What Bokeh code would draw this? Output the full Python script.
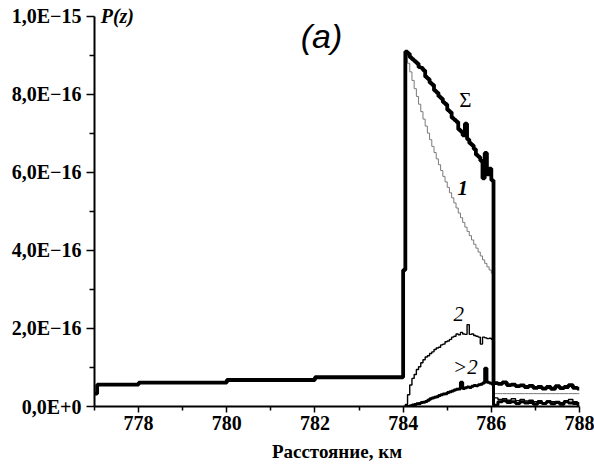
import numpy as np
from bokeh.plotting import figure
from bokeh.models import Range1d, FixedTicker, Label
from bokeh.embed import file_html
from bokeh.resources import INLINE

# ---- data (P(z) in units of 1e-16) ----
# baseline part of the total (Σ) before the peak
pre_edges = [777.0, 777.06, 778.0, 780.0, 782.0, 784.0]
pre_sum = [0.33, 0.56, 0.61, 0.68, 0.75, 3.5]

# peak region, bins of 0.05 km starting at 784.05
peak_edges = list(np.round(784.05 + 0.05 * np.arange(40), 2))
peak_sum = [9.10, 9.05, 8.95, 8.90, 8.85, 8.80, 8.70, 8.68, 8.62, 8.45,
            8.40, 8.30, 8.25, 8.10, 8.05, 7.95, 7.90, 7.80, 7.75, 7.60,
            7.55, 7.40, 7.35, 7.30, 7.10, 7.05, 6.95, 7.25, 6.85, 6.75,
            6.70, 6.60, 6.45, 6.40, 6.30, 5.85, 6.50, 5.95, 6.10, 5.80]
peak_1 = [9.05, 8.80, 8.58, 8.36, 8.15, 7.95, 7.75, 7.56, 7.37, 7.19,
          7.01, 6.84, 6.67, 6.51, 6.35, 6.20, 6.05, 5.90, 5.76, 5.62,
          5.48, 5.35, 5.22, 5.09, 4.96, 4.84, 4.72, 4.60, 4.49, 4.38,
          4.27, 4.16, 4.06, 3.96, 3.86, 3.76, 3.67, 3.58, 3.50, 3.42]
peak_2 = [0.05, 0.30, 0.55, 0.72, 0.82, 0.95, 1.02, 1.12, 1.20, 1.27,
          1.30, 1.36, 1.40, 1.46, 1.50, 1.52, 1.58, 1.60, 1.66, 1.68,
          1.72, 1.78, 1.80, 1.86, 1.84, 1.90, 1.86, 1.85, 2.10, 1.85,
          1.86, 1.82, 1.80, 1.78, 1.60, 1.78, 1.76, 1.74, 1.75, 1.72]
peak_gt2 = [0.00, 0.00, 0.02, 0.04, 0.05, 0.07, 0.08, 0.10, 0.11, 0.13,
            0.16, 0.20, 0.22, 0.24, 0.25, 0.28, 0.30, 0.32, 0.33, 0.36,
            0.38, 0.40, 0.42, 0.44, 0.45, 0.62, 0.46, 0.48, 0.50, 0.49,
            0.52, 0.54, 0.53, 0.56, 0.57, 0.60, 0.98, 0.62, 0.60, 0.58]

# tail after 786 km, bins of 0.1 km starting at 786.05
post_edges = list(np.round(786.05 + 0.1 * np.arange(20), 2))
post_sum = [0.60, 0.58, 0.62, 0.55, 0.56, 0.52, 0.54, 0.50, 0.53, 0.48,
            0.50, 0.46, 0.50, 0.45, 0.52, 0.47, 0.50, 0.55, 0.48, 0.46]
post_1 = [0.33] * 20
post_2 = [0.22, 0.18, 0.20, 0.16, 0.20, 0.15, 0.18, 0.14, 0.16, 0.12,
          0.15, 0.10, 0.14, 0.12, 0.13, 0.10, 0.15, 0.18, 0.12, 0.10]
post_gt2 = [0.03, 0.12, 0.15, 0.10, 0.12, 0.08, 0.12, 0.09, 0.10, 0.06,
            0.10, 0.08, 0.12, 0.07, 0.10, 0.06, 0.12, 0.09, 0.08, 0.05]
x_end = 788.0

y_ticks = [0, 2, 4, 6, 8, 10]
y_labels = ["0,0E+0", "2,0E\u221216", "4,0E\u221216", "6,0E\u221216", "8,0E\u221216", "1,0E\u221215"]
x_ticks = [778, 780, 782, 784, 786, 788]


def stepped(edges, vals):
    xs = list(edges) + [x_end]
    ys = list(vals) + [vals[-1]]
    return xs, ys


p = figure(width=594, height=472, output_backend="svg", toolbar_location=None,
           x_range=Range1d(777, 788), y_range=Range1d(0, 10.41),
           min_border_left=94, min_border_right=15, min_border_top=0, min_border_bottom=66)
p.outline_line_color = None
p.xgrid.visible = False
p.ygrid.visible = False
p.background_fill_color = "white"

FONT = "Liberation Serif"

# axes
for ax in (p.xaxis[0], p.yaxis[0]):
    ax.axis_line_width = 2
    ax.major_tick_line_width = 1.5
    ax.minor_tick_line_width = 1.5
    ax.major_tick_in = 0
    ax.minor_tick_in = 0
    ax.major_label_text_font = FONT
    ax.major_label_text_font_style = "bold"
    ax.major_label_text_font_size = "20px"
    ax.major_label_text_color = "black"

p.yaxis.bounds = (0, 10)
p.yaxis.ticker = FixedTicker(ticks=y_ticks, minor_ticks=[1, 3, 5, 7, 9])
p.yaxis.major_label_overrides = {t: l for t, l in zip(y_ticks, y_labels)}
p.yaxis.major_tick_out = 8
p.yaxis.minor_tick_out = 5
p.yaxis.major_label_standoff = 5

p.xaxis.ticker = FixedTicker(ticks=x_ticks, minor_ticks=[777, 779, 781, 783, 785, 787])
p.xaxis.major_tick_out = 6
p.xaxis.minor_tick_out = 4
p.xaxis.major_label_standoff = 3
p.xaxis.axis_label = "Расстояние, км"
p.xaxis.axis_label_text_font = FONT
p.xaxis.axis_label_text_font_style = "bold"
p.xaxis.axis_label_text_font_size = "19px"
p.xaxis.axis_label_text_color = "black"
p.xaxis.axis_label_standoff = 8

# curves
x1, y1 = stepped(peak_edges + post_edges, peak_1 + post_1)
p.step(x1, y1, mode="after", line_color="#7a7a7a", line_width=1)

x2, y2 = stepped([784.0] + peak_edges + post_edges, [0.0] + peak_2 + post_2)
p.step(x2, y2, mode="after", line_color="black", line_width=1.4)

x3, y3 = stepped(peak_edges + post_edges, peak_gt2 + post_gt2)
p.step(x3, y3, mode="after", line_color="black", line_width=3)

xs, ys = stepped(pre_edges + peak_edges + post_edges, pre_sum + peak_sum + post_sum)
p.step(xs, ys, mode="after", line_color="black", line_width=3.8)

# annotations
common = dict(text_color="black", text_align="center", text_baseline="middle")
p.add_layout(Label(x=785.41, y=7.85, text="\u03a3", text_font=FONT, text_font_size="21px", **common))
p.add_layout(Label(x=785.35, y=5.59, text="1", text_font=FONT, text_font_size="21px",
                   text_font_style="bold italic", **common))
p.add_layout(Label(x=785.26, y=2.38, text="2", text_font=FONT, text_font_size="21px",
                   text_font_style="italic", **common))
p.add_layout(Label(x=785.41, y=1.0, text=">2", text_font=FONT, text_font_size="21px",
                   text_font_style="italic", **common))
p.add_layout(Label(x=782.15, y=9.51, text="(a)", text_font="Liberation Sans", text_font_size="34px",
                   text_font_style="italic", **common))
p.add_layout(Label(x=777.14, y=10.0, text="P(z)", text_font=FONT, text_font_size="20px",
                   text_font_style="bold italic", text_color="black", text_align="left",
                   text_baseline="middle"))

open("out.html", "w").write(file_html(p, INLINE))
